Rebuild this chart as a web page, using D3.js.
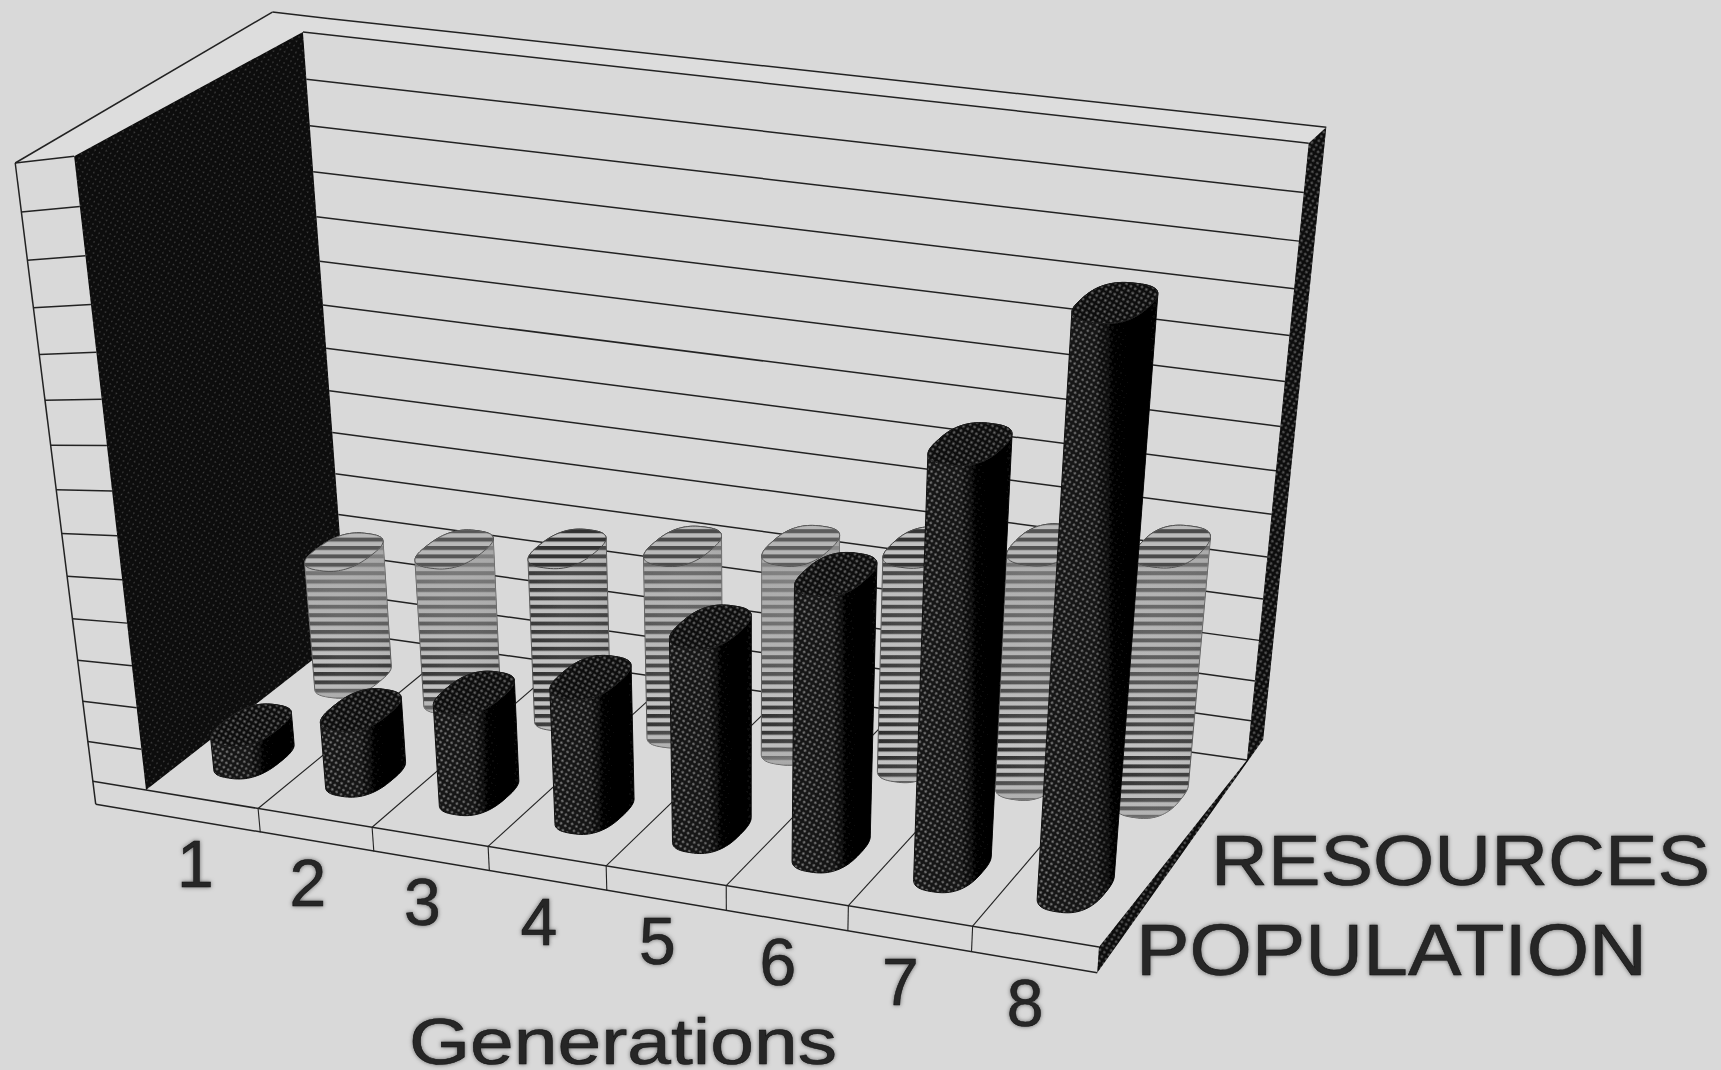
<!DOCTYPE html>
<html><head><meta charset="utf-8">
<script src="https://cdnjs.cloudflare.com/ajax/libs/d3/7.8.5/d3.min.js"></script>
<style>html,body{margin:0;padding:0;background:#d9d9d9;overflow:hidden}svg{display:block}
text{font-family:"Liberation Sans",Arial,sans-serif;fill:#262626;stroke:#111;stroke-width:.5}</style></head>
<body><svg id="c" width="1721" height="1070"></svg>
<script>
// ---- data (value in gridline units) ----
const generations = ["1","2","3","4","5","6","7","8"];
const seriesNames = ["POPULATION","RESOURCES"];
const population = [0.8,1.6,2.45,3.25,4.85,6.45,9.65,12.85];
const resources  = [3.15,3.6,4.0,4.45,4.85,5.2,5.65,6.0];
const valueTicks = d3.range(0,15);
const xLabel = "Generations";
// how washed-out the scanned stripes are on each resource bar
const stripeWash = [.9,.9,.2,.7,1,.3,.8,.7];

// ---- the drawing's 3-D camera: floor corners + vertical vanishing point ----
const floorFL=[146,790], floorFR=[1099,947], floorBL=[347,633], floorBR=[1247,760];
const vanish=[748,6100], topBackLeftY=32, sag=44, xWarp=0.046;
const wallX=-0.063, wallZ=0.12, floorV=-0.042;

function solve(A,b){const n=b.length,M=A.map((r,i)=>[...r,b[i]]);
  for(let c=0;c<n;c++){let p=c;for(let r=c+1;r<n;r++)if(Math.abs(M[r][c])>Math.abs(M[p][c]))p=r;
    [M[c],M[p]]=[M[p],M[c]];
    for(let r=0;r<n;r++)if(r!==c){const f=M[r][c]/M[c][c];for(let k=c;k<=n;k++)M[r][k]-=f*M[c][k];}}
  return M.map((r,i)=>r[n]/r[i]);}
const corr=[[0,0,floorFL],[1,0,floorFR],[0,1,floorBL],[1,1,floorBR]];
const A=[],B=[];
corr.forEach(([u,w,[X,Y]])=>{A.push([u,w,1,0,0,0,-u*X,-w*X]);B.push(X);A.push([0,0,0,u,w,1,-u*Y,-w*Y]);B.push(Y);});
const h=solve(A,B);
const w0=h[7]+1;
const kV=(floorBL[1]-topBackLeftY)*w0/(topBackLeftY-vanish[1]);
function P(x0,z,v){
  const x=(x0>0&&x0<1)?x0+xWarp*x0*(1-x0):x0;
  const X=h[0]*x+h[1]*z+h[2]+v*kV*vanish[0],
        Y=h[3]*x+h[4]*z+h[5]+v*kV*vanish[1],
        W=h[6]*x+h[7]*z+1+v*kV;
  return [X/W,Y/W+sag*x*Math.max(v,0)+(x<0?(sag*.06+12)*v*Math.max(1-z,0):0)];
}
// ---- scales ----
const xS=d3.scaleBand().domain(generations).range([0,1]);
const zS=d3.scaleBand().domain(seriesNames).range([0,1]);
const vS=d3.scaleLinear().domain([0,14]).range([0,1]);
const T=vS(14);

const svg=d3.select("#c");
const defs=svg.append("defs");
// patterns
const dot=defs.append("pattern").attr("id","dots").attr("patternUnits","userSpaceOnUse").attr("width",5).attr("height",5).attr("patternTransform","rotate(30)");
dot.append("rect").attr("width",5).attr("height",5).attr("fill","#161616");
dot.append("circle").attr("cx",2.5).attr("cy",2.5).attr("r",1.2).attr("fill","#8c8c8c");
const dotW=defs.append("pattern").attr("id","dotsWall").attr("patternUnits","userSpaceOnUse").attr("width",5).attr("height",5).attr("patternTransform","rotate(30)");
dotW.append("rect").attr("width",5).attr("height",5).attr("fill","#080808");
dotW.append("circle").attr("cx",2.5).attr("cy",2.5).attr("r",.9).attr("fill","#404040");
const st=defs.append("pattern").attr("id","stripes").attr("patternUnits","userSpaceOnUse").attr("width",8).attr("height",8.4);
st.append("rect").attr("width",8).attr("height",8.4).attr("fill","#c8c8c8");
st.append("rect").attr("y",0).attr("width",8).attr("height",4).attr("fill","#262626");
const gp=defs.append("linearGradient").attr("id","shadeP");
[[0,"#000",0.05],[.5,"#000",.2],[.64,"#000",.92],[.92,"#000",1],[1,"#000",.8]].forEach(d=>gp.append("stop").attr("offset",d[0]).attr("stop-color",d[1]).attr("stop-opacity",d[2]));
const gr=defs.append("linearGradient").attr("id","shadeR");
[[0,"#999",.05],[.4,"#a8a8a8",.15],[.8,"#8c8c8c",.2],[1,"#777",.2]].forEach(d=>gr.append("stop").attr("offset",d[0]).attr("stop-color",d[1]).attr("stop-opacity",d[2]));
const gv=defs.append("linearGradient").attr("id","fadeV").attr("x2",0).attr("y2",1);
[[0,"#a0a0a0",.85],[.5,"#a0a0a0",.5],[.8,"#a0a0a0",.05],[.9,"#a0a0a0",.1],[1,"#a0a0a0",.8]].forEach(d=>gv.append("stop").attr("offset",d[0]).attr("stop-color",d[1]).attr("stop-opacity",d[2]));
const soft=defs.append("filter").attr("id","soft").attr("x","-5%").attr("y","-5%").attr("width","110%").attr("height","110%");
soft.append("feGaussianBlur").attr("stdDeviation",0.7);

const g=svg.append("g").attr("filter","url(#soft)");
g.append("rect").attr("width",1721).attr("height",1070).attr("fill","#d9d9d9");
const line=d3.line();
const poly=pts=>line(pts)+"Z";
const LINE="#222";
function seg(a,b,w=1.5){g.append("path").attr("d",line([a,b])).attr("stroke",LINE).attr("stroke-width",w).attr("fill","none");}

// panels
g.append("path").attr("d",poly([P(wallX,0,T),P(wallX,1+wallZ,T),P(0,1+wallZ,T),P(1,1+wallZ,T),P(1,1,T),P(0,1,T),P(0,0,T)])).attr("fill","#dddddd");
// back wall gridlines
valueTicks.forEach(t=>seg(P(0,1,vS(t)),P(1,1,vS(t))));
seg(P(wallX,1+wallZ,T),P(0,1+wallZ,T));
seg(P(0,1+wallZ,T),P(1,1+wallZ,T));
// floor
generations.forEach((d,i)=>{const xx=xS(d);
  if(i>0){seg(P(xx,0,0),P(xx,1,0),1.1);seg(P(xx,0,0),P(xx,0,floorV),1.1);}
});
// front floor edges
seg(P(0,0,0),P(1,0,0));
seg(P(wallX,0,floorV),P(1,0,floorV));
// left wall (dark plane)
g.append("path").attr("d",poly([P(0,0,T),P(0,1,T),P(0,1,0),P(0,0,0)])).attr("fill","url(#dotsWall)");
// left wall front band
valueTicks.forEach(t=>{if(t>0)seg(P(wallX,0,vS(t)),P(0,0,vS(t)));});
seg(P(wallX,0,T),P(wallX,0,floorV));
seg(P(wallX,0,T),P(wallX,1+wallZ,T));
seg(P(wallX,0,0),P(0,0,0));
// right side strip
const strip=[P(1,1,T),P(1,1+wallZ,T),P(1,1+wallZ,0),P(1,0,floorV),P(1,0,0),P(1,1,0)];
g.append("path").attr("d",poly(strip)).attr("fill","url(#dots)");
g.append("path").attr("d",poly(strip)).attr("fill","#000").attr("opacity",.35);

// ---- bars ----
const rX=0.03, rZ=0.125, N=80, expo=0.76;
const sp=t=>Math.sign(t)*Math.pow(Math.abs(t),expo);
function ring(cx,cz,v){return d3.range(N).map(i=>{const a=i/N*2*Math.PI;return P(cx+rX*sp(Math.cos(a)),cz+rZ*sp(Math.sin(a)),v);});}
function bar(name,cat,val,wash){
  const cx=xS(cat)+xS.bandwidth()/2, cz=zS(name)+zS.bandwidth()/2, v=vS(val);
  const bot=ring(cx,cz,0), top=ring(cx,cz,v);
  const hull=d3.polygonHull([...bot,...top]);
  const isP=name==="POPULATION";
  const b=g.append("g");
  b.append("path").attr("d",poly(hull)).attr("fill",isP?"url(#dots)":"url(#stripes)").attr("stroke",isP?"#111":"#555").attr("stroke-width",1);
  b.append("path").attr("d",poly(hull)).attr("fill",isP?"url(#shadeP)":"url(#shadeR)");
  if(!isP)b.append("path").attr("d",poly(hull)).attr("fill","url(#fadeV)").attr("opacity",wash);
  b.append("path").attr("d",poly(top)).attr("fill",isP?"url(#dots)":"url(#stripes)").attr("stroke",isP?"#222":"#444").attr("stroke-width",1);
  if(isP)b.append("path").attr("d",poly(top)).attr("fill","#000").attr("opacity",.25);
  else b.append("path").attr("d",poly(top)).attr("fill","#a0a0a0").attr("opacity",.45*wash);
}
generations.forEach((c,i)=>bar("RESOURCES",c,resources[i],stripeWash[i]));
generations.forEach((c,i)=>bar("POPULATION",c,population[i],0));

// ---- text ----
const tg=g.append("g").style("filter","drop-shadow(0 0 2px #666)");
generations.forEach(c=>{
  const p=P(xS(c)+xS.bandwidth()/2,0,floorV);
  tg.append("text").text(c).attr("x",p[0]-9).attr("y",p[1]+64).attr("text-anchor","middle").attr("font-size",66);
});
tg.append("text").text(xLabel).attr("x",409).attr("y",1064).attr("font-size",65).attr("textLength",428).attr("lengthAdjust","spacingAndGlyphs");
tg.append("text").text(seriesNames[1]).attr("x",1211).attr("y",885).attr("font-size",70).attr("textLength",499).attr("lengthAdjust","spacingAndGlyphs");
tg.append("text").text(seriesNames[0]).attr("x",1136).attr("y",975).attr("font-size",72).attr("textLength",511).attr("lengthAdjust","spacingAndGlyphs");
</script></body></html>
